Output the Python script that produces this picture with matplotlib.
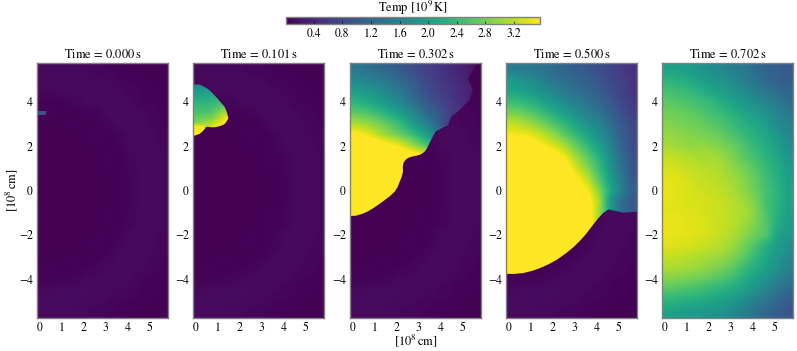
import numpy as np
import matplotlib
matplotlib.use('Agg')
import matplotlib.pyplot as plt
from matplotlib.path import Path
from matplotlib.ticker import FormatStrFormatter

plt.rcParams['font.family'] = ['STIXGeneral', 'Liberation Serif']
plt.rcParams['mathtext.fontset'] = 'stix'

# all temperatures in units of 0.01 x 10^9 K
times = ['0.000', '0.101', '0.302', '0.500', '0.702']
cbar_ticks = [0.4, 0.8, 1.2, 1.6, 2.0, 2.4, 2.8, 3.2]
x_ticks = [0, 1, 2, 3, 4, 5]
y_ticks = [-4, -2, 0, 2, 4]

# unburnt star, cells of 0.5 x 0.5, y from +5.5 down to -5.5
temp_background = [
    [9, 9, 9, 9, 8, 6, 5, 4, 3, 3, 3, 3],
    [10, 10, 10, 10, 9, 9, 8, 5, 5, 4, 3, 3],
    [8, 9, 10, 10, 10, 10, 9, 9, 6, 5, 4, 3],
    [3, 3, 4, 6, 10, 10, 10, 9, 9, 5, 5, 4],
    [4, 4, 3, 3, 4, 6, 10, 10, 10, 9, 6, 5],
    [2, 2, 4, 4, 3, 3, 6, 10, 10, 9, 7, 5],
    [2, 2, 2, 2, 4, 4, 3, 6, 10, 10, 9, 6],
    [2, 2, 2, 2, 2, 4, 3, 5, 10, 10, 9, 7],
    [2, 2, 2, 2, 2, 2, 4, 3, 6, 10, 10, 9],
    [2, 2, 2, 2, 2, 2, 4, 3, 6, 10, 10, 9],
    [2, 2, 2, 2, 2, 2, 3, 3, 5, 10, 10, 9],
    [2, 2, 2, 2, 2, 2, 3, 3, 5, 10, 10, 9],
    [2, 2, 2, 2, 2, 2, 3, 3, 5, 10, 10, 9],
    [2, 2, 2, 2, 2, 2, 4, 3, 6, 10, 10, 9],
    [2, 2, 2, 2, 2, 2, 4, 3, 6, 10, 10, 9],
    [2, 2, 2, 2, 2, 4, 3, 5, 10, 10, 9, 7],
    [2, 2, 2, 2, 4, 4, 3, 6, 10, 10, 9, 6],
    [2, 2, 4, 4, 3, 3, 6, 10, 10, 9, 7, 5],
    [4, 4, 3, 3, 4, 6, 10, 10, 10, 9, 6, 5],
    [4, 4, 5, 6, 10, 10, 10, 9, 9, 5, 5, 4],
    [9, 10, 11, 11, 11, 10, 9, 9, 6, 5, 4, 3],
    [12, 12, 12, 11, 10, 9, 8, 5, 5, 4, 3, 3],
    [10, 10, 10, 9, 8, 6, 5, 4, 3, 3, 3, 3],
]

# hot spot in the first panel
spark_temp = [[90]]
spark_extent = [-0.1, 0.3, 3.4, 3.55]

# second panel, cells 0.25 x 0.25, y from 4.775 down to 2.525
temp_101 = [
    [170, 170, 170, 170, 170, 170, 170],
    [185, 190, 195, 200, 205, 205, 205],
    [205, 210, 215, 215, 220, 220, 220],
    [225, 225, 225, 230, 235, 240, 240],
    [240, 240, 240, 245, 255, 265, 265],
    [255, 255, 255, 265, 280, 300, 310],
    [270, 270, 275, 285, 305, 335, 345],
    [290, 295, 305, 320, 340, 355, 360],
    [400, 380, 330, 345, 355, 360, 360],
    [400, 400, 400, 360, 360, 360, 360],
]
front_101_x = [-0.1, 0.2, 0.5, 0.65, 0.8, 0.93, 1.07, 1.2, 1.33, 1.4, 1.45, 1.51, 1.37, 1.25, 1.1, 0.95, 0.8,
               0.5, 0.39, 0.2, -0.1]
front_101_y = [4.78, 4.78, 4.63, 4.52, 4.38, 4.24, 4.08, 3.93, 3.78, 3.63, 3.48, 3.25, 3.03, 2.95, 2.9, 2.86, 2.85,
               2.87, 2.72, 2.55, 2.45]

# third panel, cells 0.5 x 0.5, y from 5.5 down to -1.5
temp_302 = [
    [140, 132, 122, 112, 100, 88, 75, 62, 50, 40, 30, 12],
    [165, 158, 148, 135, 120, 102, 85, 68, 55, 45, 35, 15],
    [195, 188, 175, 160, 142, 120, 95, 78, 62, 52, 40, 20],
    [228, 215, 200, 182, 165, 138, 110, 88, 70, 55, 42, 15],
    [265, 255, 240, 218, 195, 170, 135, 108, 85, 60, 40, 15],
    [310, 300, 285, 265, 240, 205, 170, 135, 85, 55, 30, 20],
    [360, 345, 320, 295, 275, 250, 215, 175, 120, 60, 40, 20],
    [400, 400, 385, 365, 345, 310, 275, 240, 150, 60, 40, 20],
    [400, 400, 400, 400, 400, 390, 370, 320, 150, 60, 40, 20],
    [400, 400, 400, 400, 400, 400, 400, 300, 150, 60, 40, 20],
    [400, 400, 400, 400, 400, 400, 400, 300, 150, 60, 40, 20],
    [400, 400, 400, 400, 400, 400, 400, 300, 150, 60, 40, 20],
    [400, 400, 400, 400, 400, 400, 400, 300, 150, 60, 40, 20],
    [400, 400, 400, 400, 400, 400, 400, 300, 150, 60, 40, 20],
    [400, 400, 400, 400, 400, 400, 400, 300, 150, 60, 40, 20],
]
front_302_x = [-0.1, 0.15, 0.42, 0.7, 0.95, 1.25, 1.48, 1.72, 1.93, 2.06, 2.16, 2.25, 2.31, 2.3, 2.33, 2.42, 2.54,
               2.72, 2.92, 3.12, 3.29, 3.38, 3.47, 3.62, 3.78, 4.05, 4.35, 4.5, 4.88, 5.33, 5.48, 5.26, 5.64, 5.7,
               -0.1]
front_302_y = [-1.15, -1.14, -1.07, -0.95, -0.8, -0.6, -0.43, -0.25, -0.05, 0.15, 0.4, 0.62, 0.85, 1.05, 1.25, 1.38,
               1.47, 1.53, 1.57, 1.63, 1.75, 1.87, 2.05, 2.35, 2.65, 2.8, 2.95, 3.33, 3.63, 4.08, 4.53, 5.05, 5.65,
               5.75, 5.75]

# fourth panel, cells 0.5 x 0.5, y from 5.5 down to -4.0
temp_500 = [
    [150, 145, 140, 135, 125, 115, 105, 95, 85, 75, 62, 50],
    [190, 180, 170, 150, 135, 125, 115, 105, 95, 80, 68, 55],
    [210, 200, 190, 175, 160, 140, 130, 118, 105, 88, 72, 55],
    [245, 235, 225, 205, 185, 168, 150, 135, 118, 98, 78, 62],
    [285, 275, 260, 240, 218, 198, 175, 155, 135, 112, 88, 70],
    [325, 315, 300, 280, 255, 230, 205, 180, 160, 130, 100, 80],
    [355, 350, 340, 320, 295, 265, 235, 205, 175, 145, 108, 82],
    [400, 400, 375, 355, 335, 305, 270, 235, 200, 160, 115, 85],
    [400, 400, 400, 390, 375, 345, 300, 265, 225, 175, 125, 90],
    [400, 400, 400, 400, 390, 370, 330, 290, 240, 185, 135, 95],
    [400, 400, 400, 400, 400, 390, 360, 320, 260, 200, 145, 100],
    [400, 400, 400, 400, 400, 400, 385, 350, 290, 215, 150, 110],
    [400, 400, 400, 400, 400, 400, 400, 370, 310, 190, 125, 100],
    [400, 400, 400, 400, 400, 400, 400, 380, 300, 200, 130, 100],
    [400, 400, 400, 400, 400, 400, 400, 380, 300, 200, 130, 100],
    [400, 400, 400, 400, 400, 400, 400, 380, 300, 200, 130, 100],
    [400, 400, 400, 400, 400, 400, 400, 380, 300, 200, 130, 100],
    [400, 400, 400, 400, 400, 400, 400, 380, 300, 200, 130, 100],
    [400, 400, 400, 400, 400, 400, 400, 380, 300, 200, 130, 100],
    [400, 400, 400, 400, 400, 400, 400, 380, 300, 200, 130, 100],
]
front_500_x = [-0.1, 0.3, 0.7, 1.1, 1.45, 1.85, 2.2, 2.6, 2.96, 3.28, 3.56, 3.83, 4.09, 4.3, 4.55, 5.22, 5.9, 5.9,
               -0.1]
front_500_y = [-3.76, -3.76, -3.72, -3.62, -3.5, -3.32, -3.13, -2.85, -2.56, -2.25, -1.93, -1.58, -1.25, -1.03,
               -0.85, -1.0, -0.95, 5.75, 5.75]

# last panel, cells 0.5 x 0.5, y from +5.5 down to -5.5
temp_702 = [
    [205, 200, 195, 185, 175, 165, 150, 145, 125, 115, 110, 100],
    [230, 225, 215, 200, 190, 180, 165, 150, 135, 120, 110, 105],
    [250, 245, 235, 225, 210, 200, 185, 170, 155, 140, 125, 115],
    [265, 260, 255, 245, 235, 220, 205, 190, 175, 160, 145, 130],
    [280, 275, 270, 260, 250, 240, 225, 210, 195, 180, 160, 145],
    [290, 285, 280, 275, 265, 255, 240, 225, 210, 195, 175, 155],
    [300, 295, 290, 285, 280, 270, 255, 240, 225, 210, 190, 165],
    [310, 305, 300, 300, 295, 285, 275, 255, 235, 220, 200, 175],
    [325, 320, 315, 310, 310, 300, 285, 265, 250, 230, 210, 185],
    [335, 330, 325, 320, 315, 310, 295, 280, 260, 240, 220, 195],
    [342, 340, 332, 325, 320, 315, 305, 290, 270, 245, 225, 200],
    [345, 340, 335, 330, 325, 320, 310, 295, 275, 250, 230, 205],
    [342, 340, 335, 335, 330, 325, 315, 305, 285, 250, 230, 205],
    [342, 342, 338, 335, 330, 325, 318, 310, 290, 255, 225, 200],
    [345, 345, 340, 338, 332, 325, 318, 305, 285, 260, 220, 195],
    [345, 342, 340, 335, 330, 322, 312, 295, 275, 260, 205, 190],
    [338, 336, 332, 328, 322, 315, 300, 280, 255, 220, 200, 180],
    [325, 322, 318, 312, 305, 300, 285, 265, 235, 210, 190, 170],
    [310, 310, 305, 300, 290, 280, 265, 240, 220, 200, 180, 155],
    [290, 285, 280, 275, 265, 255, 240, 220, 200, 180, 160, 140],
    [260, 255, 250, 245, 235, 225, 215, 200, 180, 160, 140, 120],
    [230, 225, 220, 215, 210, 200, 190, 175, 155, 135, 120, 105],
    [205, 200, 195, 190, 185, 180, 165, 150, 135, 120, 105, 95],
]

panel_left = [37, 193, 350, 506, 662]
panel_w = 131
panel_top = 63
panel_bottom = 318
W, H = 797, 351
vmin, vmax = 0.01, 3.56
xlim = (-0.1, 5.85)
ylim = (-5.75, 5.75)
spine_color = '#808080'


def show_layer(ax, temp, extent, clip_x=None, clip_y=None):
    im = ax.imshow(np.array(temp) / 100.0, extent=extent, cmap='viridis', vmin=vmin, vmax=vmax,
                   interpolation='bilinear', aspect='auto', zorder=2)
    if clip_x is not None:
        verts = np.column_stack([clip_x, clip_y])
        im.set_clip_path(Path(np.vstack([verts, verts[:1]])), transform=ax.transData)
    return im


def style_axes(ax):
    ax.set_xlim(xlim)
    ax.set_ylim(ylim)
    ax.set_xticks(x_ticks)
    ax.set_yticks(y_ticks)
    ax.tick_params(direction='in', top=True, right=True, length=2.5, width=0.5,
                   labelsize=8.5, pad=3)
    for s in ax.spines.values():
        s.set_color(spine_color)
        s.set_linewidth(1.0)
        s.set_zorder(5)


fig = plt.figure(figsize=(W / 100, H / 100), dpi=100)
axes = []
for left in panel_left:
    axes.append(fig.add_axes([left / W, 1 - panel_bottom / H, panel_w / W, (panel_bottom - panel_top) / H]))

bg_extent = [-0.1, 5.9, -5.75, 5.75]
im = None
for ax, t in zip(axes, times):
    im = show_layer(ax, temp_background, bg_extent)
    ax.set_title(r'Time$\,=\,$' + t + r'$\,$s', fontsize=9, pad=3.5)

show_layer(axes[0], spark_temp, spark_extent)
show_layer(axes[1], temp_101, [-0.1, 1.65, 2.4, 4.9], front_101_x, front_101_y)
show_layer(axes[2], temp_302, [-0.1, 5.9, -1.75, 5.75], front_302_x, front_302_y)
show_layer(axes[3], temp_500, [-0.1, 5.9, -4.25, 5.75], front_500_x, front_500_y)
show_layer(axes[4], temp_702, bg_extent)

for ax in axes:
    style_axes(ax)

axes[0].set_ylabel(r'$[10^8\,\mathrm{cm}]$', fontsize=9, labelpad=-1)
axes[2].set_xlabel(r'$[10^8\,\mathrm{cm}]$', fontsize=9, labelpad=-1)

cax = fig.add_axes([286 / W, 1 - 24.3 / H, 253.5 / W, 7 / H])
cb = fig.colorbar(im, cax=cax, orientation='horizontal', ticks=cbar_ticks)
cb.ax.tick_params(direction='in', length=2, width=0.5, labelsize=8.5, pad=3)
cb.outline.set_edgecolor(spine_color)
cb.outline.set_linewidth(1.0)
cb.ax.xaxis.set_major_formatter(FormatStrFormatter('%.1f'))
cax.set_title(r'Temp $[10^9\,\mathrm{K}]$', fontsize=9, pad=1.5)

fig.savefig('out.png', dpi=100)
